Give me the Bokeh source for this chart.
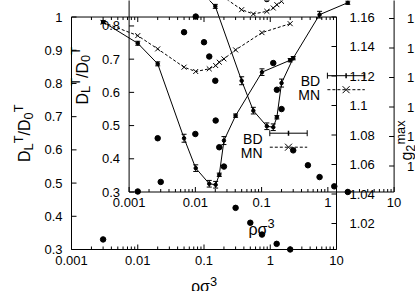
import math
from bokeh.plotting import figure
from bokeh.models import Range1d, LogScale, Label, Arrow
from bokeh.core.properties import value
from bokeh.embed import file_html
from bokeh.resources import INLINE

# ---------------- data ----------------
rho_bd = [0.003, 0.01, 0.02, 0.05, 0.075, 0.12, 0.15, 0.17, 0.2, 0.3, 0.75, 2.0]
dl_bd = [0.985, 0.921, 0.859, 0.635, 0.545, 0.498, 0.495, 0.525, 0.628, 0.703, 0.834, 0.870]
err_bd = [0.004, 0.006, 0.006, 0.012, 0.010, 0.010, 0.010, 0.005, 0.012, 0.005, 0.010, 0.005]
dl_mn = [0.984, 0.944, 0.904, 0.849, 0.836, 0.844, 0.854, 0.864, 0.874, 0.901, 0.953, 0.980]
rho_g2 = [0.003, 0.01, 0.02, 0.05, 0.075, 0.1, 0.12, 0.15, 0.17, 0.2, 0.3, 0.5, 0.75, 1.25, 2.0]
g2_max = [1.0092, 1.0417, 1.0778, 1.1497, 1.1603, 1.1429, 1.1332, 1.0898, 1.0717,
          1.0586, 1.0306, 1.0205, 1.0125, 1.0062, 1.0024]
x_ticks = [0.001, 0.01, 0.1, 1, 10]
x_minor = [k * 10.0 ** e for e in range(-3, 1) for k in range(2, 10)]
y_ticks = [0.3, 0.4, 0.5, 0.6, 0.7, 0.8, 0.9, 1.0]
g_ticks = [1.02, 1.04, 1.06, 1.08, 1.10, 1.12, 1.14, 1.16]

# ---------------- layout (canvas px) ----------------
W, H = 415, 291
DEC = 66.25                            # px per decade
YPX = 332.1                            # px per unit, left axis
GPX = 1475.0                           # px per unit, right axis
X0, Y0, G0 = 71.0, 249.0, 16.5         # canvas pos of 0.001, 0.3 and 1.16 (first copy)
DX, DY = 57.6, -57.5                   # offset of second copy
FONT = "Liberation Sans"


def ranges(dx, dy):
    x0, y0, g0 = X0 + dx, Y0 + dy, G0 + dy
    xs = x_ticks[0] * 10 ** (-x0 / DEC)
    xe = xs * 10 ** (W / DEC)
    ys = y_ticks[0] - (H - y0) / YPX
    ye = y_ticks[0] + y0 / YPX
    gs = g_ticks[-1] - (H - g0) / GPX
    ge = g_ticks[-1] + g0 / GPX
    return (xs, xe), (ys, ye), (gs, ge)


(xa, ya, ga) = ranges(0, 0)
(xb, yb, gb) = ranges(DX, DY)
g_low = g_ticks[-1] - (Y0 - G0) / GPX      # value of right axis at the bottom border

p = figure(width=W, height=H, x_axis_type="log",
           x_range=Range1d(*xa), y_range=Range1d(*ya),
           extra_x_ranges={"xB": Range1d(*xb)},
           extra_x_scales={"xB": LogScale()},
           extra_y_ranges={"yB": Range1d(*yb), "gA": Range1d(*ga), "gB": Range1d(*gb)},
           x_axis_location=None, y_axis_location=None,
           min_border=0, min_border_left=0, min_border_right=0,
           min_border_top=0, min_border_bottom=0,
           toolbar_location=None, output_backend="svg",
           outline_line_color=None, background_fill_color="white",
           border_fill_color="white")
p.grid.visible = False

TXT = dict(text_font=value(FONT), text_font_size="13px", text_color="black")


def draw_axes(xr, yr, gr, yrange, top=True):
    kx = dict(x_range_name=xr, y_range_name=yr)
    kg = dict(x_range_name=xr, y_range_name=gr)
    x_lo, x_hi = x_ticks[0], x_ticks[-1]
    y_lo, y_hi = y_ticks[0], y_ticks[-1]
    # border lines
    p.segment(x0=[x_lo, x_lo], y0=[y_lo, y_lo], x1=[x_hi, x_lo], y1=[y_lo, y_hi],
              line_color="black", line_width=1, **kx)
    if top:
        p.segment(x0=[x_lo], y0=[y_hi], x1=[x_hi], y1=[y_hi], line_color="black", line_width=1, **kx)
    p.segment(x0=[x_hi], y0=[g_low], x1=[x_hi], y1=[g_ticks[-1]], line_color="black",
              line_width=1, **kg)
    # ticks (pointing inwards)
    p.ray(x=x_ticks, y=[y_lo] * len(x_ticks), length=5, length_units="screen",
          angle=math.pi / 2, line_color="black", **kx)
    p.ray(x=x_minor, y=[y_lo] * len(x_minor), length=3, length_units="screen",
          angle=math.pi / 2, line_color="black", **kx)
    if top:
        p.ray(x=x_ticks, y=[y_hi] * len(x_ticks), length=5, length_units="screen",
              angle=-math.pi / 2, line_color="black", **kx)
        p.ray(x=x_minor, y=[y_hi] * len(x_minor), length=3, length_units="screen",
              angle=-math.pi / 2, line_color="black", **kx)
    p.ray(x=[x_lo] * len(y_ticks), y=y_ticks, length=5, length_units="screen",
          angle=0, line_color="black", **kx)
    p.ray(x=[x_hi] * len(g_ticks), y=g_ticks, length=5, length_units="screen",
          angle=math.pi, line_color="black", **kg)
    # tick labels (only those that fall inside the picture)
    pad = 7 / YPX
    ylab_ticks = [v for v in y_ticks if yrange[0] + pad <= v <= yrange[1] - pad]
    p.text(x=x_ticks, y=[y_lo] * len(x_ticks), text=[f"{v:g}" for v in x_ticks],
           text_align="center", text_baseline="top", y_offset=6, **TXT, **kx)
    p.text(x=[x_lo] * len(ylab_ticks), y=ylab_ticks, text=[f"{v:g}" for v in ylab_ticks],
           text_align="right", text_baseline="middle", x_offset=-9, **TXT, **kx)
    p.text(x=[x_hi] * len(g_ticks), y=g_ticks, text=[f"{v:g}" for v in g_ticks],
           text_align="left", text_baseline="middle", x_offset=13, **TXT, **kg)


def draw_data(xr, yr, gr):
    kw = dict(x_range_name=xr, y_range_name=yr)
    lo = [v - e for v, e in zip(dl_bd, err_bd)]
    hi = [v + e for v, e in zip(dl_bd, err_bd)]
    p.line(rho_bd, dl_bd, line_color="black", line_width=1, **kw)
    p.segment(x0=rho_bd, y0=lo, x1=rho_bd, y1=hi, line_color="black", line_width=1, **kw)
    p.scatter(rho_bd, lo, marker="dash", size=5, line_color="black", **kw)
    p.scatter(rho_bd, hi, marker="dash", size=5, line_color="black", **kw)
    p.scatter(rho_bd, dl_bd, marker="circle", size=3.5, fill_color="black", line_color="black", **kw)
    p.line(rho_bd, dl_mn, line_color="black", line_width=1, line_dash="3 2", **kw)
    p.scatter(rho_bd, dl_mn, marker="x", size=7, line_color="black", line_width=1, **kw)
    p.scatter(rho_g2, g2_max, marker="circle", size=5.5, fill_color="black", line_color="black",
              x_range_name=xr, y_range_name=gr)


draw_axes("default", "default", "gA", ya, top=True)
draw_axes("xB", "yB", "gB", yb, top=False)
draw_data("default", "default", "gA")
draw_data("xB", "yB", "gB")

# ---------------- axis titles and key (canvas px) ----------------
ADV = {"D": 0.722, "L": 0.556, "T": 0.611, "/": 0.278, "0": 0.556, "g": 0.556, "2": 0.556,
       "m": 0.833, "a": 0.556, "x": 0.5, "ρ": 0.577, "σ": 0.617, "3": 0.556}
MAIN, SCRIPT = 16, 12.8
SUP, SUB = 6.5, -3.5


def tw(s, size):
    return sum(ADV[c] for c in s) * size


def label(sx, sy, text, size, angle=0.0, align="left"):
    p.add_layout(Label(x=sx, y=H - sy, x_units="screen", y_units="screen", text=text,
                       angle=angle, text_font=FONT, text_font_size=f"{size}px",
                       text_color="black", text_align=align, text_baseline="alphabetic"))


def rot_text(pieces, xb, ycenter):
    total = sum(tw(t, s) for t, s, _ in pieces)
    y = ycenter + total / 2
    for t, s, sh in pieces:
        label(xb - sh, y, t, s, angle=math.pi / 2)
        y -= tw(t, s)


def hor_text(pieces, xcenter, yb):
    total = sum(tw(t, s) for t, s, _ in pieces)
    x = xcenter - total / 2
    for t, s, sh in pieces:
        label(x, yb - sh, t, s)
        x += tw(t, s)


ylab = [("D", MAIN, 0), ("L", SCRIPT, SUB), ("T", SCRIPT, SUP), ("/D", MAIN, 0),
        ("0", SCRIPT, SUB), ("T", SCRIPT, SUP)]
xlab = [("ρσ", MAIN, 0), ("3", SCRIPT, SUP - 1)]
glab = [("g", MAIN, 0), ("2", SCRIPT, SUB), ("max", SCRIPT, SUP)]


def seg(x0, y0, x1, y1, dash="solid", width=1):
    p.add_layout(Arrow(x_start=x0, y_start=H - y0, x_end=x1, y_end=H - y1,
                       start_units="screen", end_units="screen", start=None, end=None,
                       line_color="black", line_width=width, line_dash=dash))


def texts(dx, dy, g_label=True):
    rot_text(ylab, 24 + dx, 132.75 + dy)
    hor_text(xlab, 203.5 + dx, 286 + dy)
    if g_label:
        rot_text(glab, 406 + dx, 140 + dy)
    # key
    label(262 + dx, 138 + dy, "BD", 14, align="right")
    label(262 + dx, 152 + dy, "MN", 14, align="right")
    x0, x1, xm = 269.3 + dx, 306.7 + dx, 288 + dx
    yb_, ym = 132.7 + dy, 146.7 + dy
    seg(x0, yb_, x1, yb_)
    seg(x0, yb_ - 3, x0, yb_ + 3)
    seg(x1, yb_ - 3, x1, yb_ + 3)
    seg(xm, yb_ - 2.5, xm, yb_ + 2.5, width=1.5)
    seg(x0, ym, x1, ym, dash="3 2")
    seg(xm - 3.5, ym - 3.5, xm + 3.5, ym + 3.5)
    seg(xm - 3.5, ym + 3.5, xm + 3.5, ym - 3.5)


texts(0, 0, g_label=True)
texts(DX, DY, g_label=False)

open("out.html", "w").write(file_html(p, INLINE))
